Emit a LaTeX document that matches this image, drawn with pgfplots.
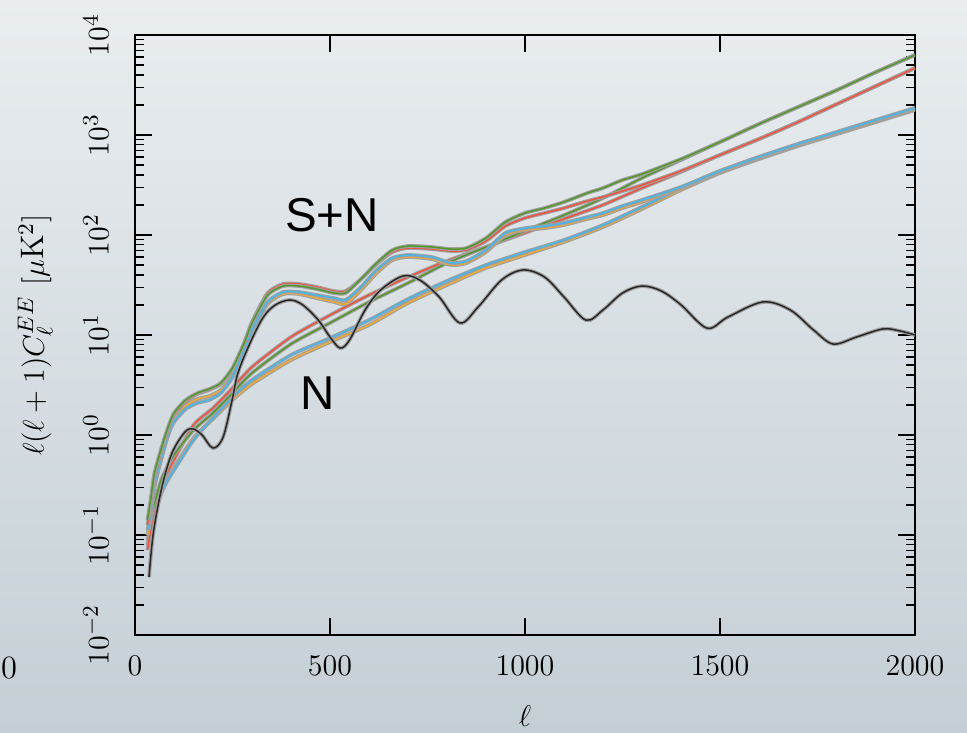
\documentclass[border=0pt]{standalone}
\usepackage{pgfplots}
\pgfplotsset{compat=1.18}
\usepackage{fontspec}
\newfontfamily\arial{Liberation Sans}
\definecolor{bgtop}{RGB}{233,237,240}
\definecolor{bgbot}{RGB}{196,207,213}
\definecolor{cgreen}{RGB}{84,150,44}
\definecolor{cred}{RGB}{240,82,62}
\definecolor{ccyan}{RGB}{72,182,232}
\definecolor{corange}{RGB}{240,170,52}
\definecolor{cblack}{RGB}{40,40,40}
\definecolor{halo}{RGB}{160,160,160}
\pgfplotsset{
  sim/.style={no marks, smooth, tension=0.4, line width=0.6pt, draw=#1, preaction={draw=halo, line width=1.5pt}},
}
\begin{document}
\begin{tikzpicture}
\useasboundingbox (0,0) rectangle (386.8pt,292.8pt);
\shade[top color=bgtop,bottom color=bgbot] (0,0) rectangle (386.8pt,292.8pt);
\node[font=\fontsize{13}{15}\selectfont, anchor=west, inner sep=0pt] at (0.2pt,25.6pt) {0};
\begin{axis}[
  at={(54pt,38.8pt)}, anchor=south west,
  scale only axis, width=312pt, height=240pt,
  xmin=0, xmax=2000, ymin=1e-2, ymax=1e4, ymode=log,
  xtick={0,500,1000,1500,2000},
  ytick={1e-2,1e-1,1,10,100,1000,10000},
  /pgf/number format/1000 sep={},
  tick align=inside,
  major tick length=6.8pt, minor tick length=3.6pt,
  axis line style={line width=0.8pt},
  every tick/.style={black, line width=0.8pt},
  every minor tick/.style={black, line width=0.6pt},
  tick label style={font=\fontsize{13}{15}\selectfont},
  yticklabel style={xshift=-7pt, rotate=90, anchor=south},
  xticklabel style={yshift=-5pt},
  xlabel={$\ell$},
  ylabel={$\ell(\ell+1)C_\ell^{EE}\ [\mu\mathrm{K}^2]$},
  label style={font=\fontsize{13}{15}\selectfont},
  xlabel style={at={(axis description cs:0.5,-0.135)}, anchor=center},
  ylabel style={at={(axis description cs:-0.128,0.5)}, anchor=center},
]
% ---- N curves
\addplot[sim=corange] coordinates {(32,0.0794)(40,0.112)(50,0.158)(70,0.275)(100,0.468)(150,0.933)(200,1.45)(250,2.24)(300,3.24)(400,5.62)(500,8.51)(600,12.6)(700,20.9)(800,31.6)(900,46.8)(1000,63.1)(1100,85.1)(1200,120)(1300,182)(1400,282)(1500,417)(1600,575)(1700,776)(1800,1023)(1900,1349)(2000,1778)};
\addplot[sim=ccyan] coordinates {(32,0.0891)(40,0.120)(50,0.166)(70,0.282)(100,0.447)(150,0.891)(200,1.48)(250,2.40)(300,3.55)(400,6.31)(500,9.33)(600,14.1)(700,22.9)(800,34.7)(900,50.1)(1000,67.6)(1100,89.1)(1200,126)(1300,191)(1400,295)(1500,437)(1600,603)(1700,813)(1800,1072)(1900,1413)(2000,1862)};
\addplot[sim=cred] coordinates {(32,0.0708)(40,0.112)(50,0.178)(70,0.331)(100,0.562)(150,1.26)(200,1.86)(250,2.95)(300,4.79)(400,9.55)(500,15.8)(600,25.1)(700,38.0)(800,55.0)(900,75.9)(1000,105)(1100,145)(1200,200)(1300,295)(1400,427)(1500,631)(1600,912)(1700,1349)(1800,2042)(1900,3090)(2000,4677)};
\addplot[sim=cgreen] coordinates {(32,0.100)(40,0.141)(50,0.209)(70,0.380)(100,0.631)(150,1.12)(200,1.66)(250,2.63)(300,4.17)(400,8.13)(500,13.2)(600,21.4)(700,33.1)(800,52.5)(900,75.9)(1000,110)(1100,158)(1200,234)(1300,372)(1400,562)(1500,851)(1600,1288)(1700,1905)(1800,2818)(1900,4266)(2000,6310)};
% ---- S+N curves
\addplot[sim=corange] coordinates {(32,0.100)(40,0.151)(50,0.302)(70,0.631)(85,1.0)(100,1.41)(130,1.95)(160,2.29)(190,2.45)(220,2.82)(250,3.98)(280,7.08)(300,11.0)(340,20.4)(380,25.7)(420,25.7)(466,23.4)(510,21.4)(540,20.4)(577,27.5)(620,41.7)(660,56.2)(700,60.3)(760,57.5)(810,50.1)(850,52.5)(900,67.6)(950,100)(1000,112)(1050,117)(1100,126)(1160,145)(1200,158)(1250,186)(1300,214)(1400,295)(1500,427)(1600,589)(1700,794)(1800,1047)(1900,1380)(2000,1820)};
\addplot[sim=ccyan] coordinates {(32,0.112)(40,0.158)(50,0.316)(70,0.631)(85,1.0)(100,1.35)(130,1.82)(160,2.09)(190,2.24)(220,2.63)(250,3.80)(280,7.08)(300,11.2)(340,21.4)(380,26.9)(420,26.9)(466,25.1)(510,23.4)(540,22.4)(577,29.5)(620,44.7)(660,58.9)(700,63.1)(760,60.3)(810,52.5)(850,55.0)(900,70.8)(950,105)(1000,117)(1050,123)(1100,132)(1160,151)(1200,166)(1250,195)(1300,224)(1400,302)(1500,437)(1600,603)(1700,813)(1800,1072)(1900,1413)(2000,1862)};
\addplot[sim=cred] coordinates {(32,0.126)(40,0.200)(50,0.380)(70,0.741)(85,1.12)(100,1.58)(130,2.14)(160,2.57)(190,2.82)(220,3.24)(250,4.57)(280,8.32)(300,13.5)(340,26.3)(380,32.4)(420,32.4)(466,30.2)(510,27.5)(540,27.5)(577,35.5)(620,51.3)(660,67.6)(700,74.1)(760,72.4)(810,69.2)(850,70.8)(900,87.1)(950,123)(1000,148)(1050,166)(1100,186)(1160,219)(1200,240)(1250,275)(1300,316)(1400,437)(1500,631)(1600,912)(1700,1349)(1800,2042)(1900,3090)(2000,4677)};
\addplot[sim=cgreen] coordinates {(32,0.141)(40,0.224)(50,0.417)(70,0.794)(85,1.20)(100,1.66)(130,2.24)(160,2.63)(190,2.88)(220,3.31)(250,4.68)(280,8.32)(300,13.2)(340,25.1)(380,30.9)(420,30.9)(466,28.8)(510,26.3)(540,26.3)(577,35.5)(620,52.5)(660,70.8)(700,77.6)(760,75.9)(810,72.4)(850,74.1)(900,93.3)(950,135)(1000,166)(1050,186)(1100,214)(1160,263)(1200,295)(1250,355)(1300,407)(1400,575)(1500,851)(1600,1288)(1700,1905)(1800,2818)(1900,4266)(2000,6310)};
% ---- theory signal
\addplot[sim=cblack, tension=0.55] coordinates {(36,0.038)(47,0.105)(69,0.302)(95,0.661)(128,1.07)(149,1.15)(172,1.0)(200,0.741)(226,0.955)(249,2.24)(264,4.17)(295,8.32)(329,15.1)(360,20.0)(397,22.4)(430,20.0)(470,14.1)(500,9.55)(526,7.41)(550,8.91)(590,17.8)(630,28.2)(687,38.9)(730,35.5)(780,24.0)(833,13.2)(880,19.1)(940,35.5)(995,44.7)(1050,38.0)(1100,24.0)(1156,14.1)(1200,17.8)(1250,26.3)(1300,30.9)(1350,27.5)(1400,20.0)(1467,11.7)(1520,15.1)(1610,21.4)(1680,17.8)(1740,11.2)(1790,8.13)(1850,9.55)(1918,11.5)(1960,11.0)(2000,10.0)};
\node[font=\arial\fontsize{19}{22}\selectfont] at (axis cs:505,158) {S+N};
\node[font=\arial\fontsize{19}{22}\selectfont] at (axis cs:469,2.63) {N};
\end{axis}
\end{tikzpicture}
\end{document}
